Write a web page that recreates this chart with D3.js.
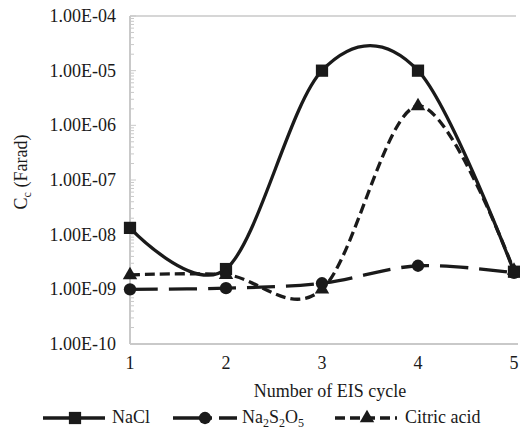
<!DOCTYPE html>
<html>
<head>
<meta charset="utf-8">
<script src="https://cdn.jsdelivr.net/npm/d3@7"></script>
<style>
  html, body { margin: 0; padding: 0; background: #fff; }
  svg { display: block; }
  svg text { font-family: "Times New Roman", Times, "Liberation Serif", Tinos, "Noto Serif", "DejaVu Serif", serif; }
</style>
</head>
<body>
<svg id="chart" width="520" height="429"></svg>
<script>
// EIS cycle numbers on the horizontal axis
const cycles = [1, 2, 3, 4, 5];

// Coating capacitance Cc (F) for each electrolyte
const naclValues = [1.33e-8, 2.35e-9, 1.0e-5, 1.0e-5, 2.1e-9];
const metabisulfiteValues = [1.0e-9, 1.05e-9, 1.29e-9, 2.7e-9, 2.0e-9];
const citricValues = [1.83e-9, 1.85e-9, 1.0e-9, 2.26e-6, 2.2e-9];

// Axis ticks
const yTickValues = [1e-10, 1e-9, 1e-8, 1e-7, 1e-6, 1e-5, 1e-4];
const yTickLabels = ["1.00E-10", "1.00E-09", "1.00E-08", "1.00E-07", "1.00E-06", "1.00E-05", "1.00E-04"];
const xTickLabels = ["1", "2", "3", "4", "5"];

const svg = d3.select("#chart");
const plot = { left: 130, right: 514, top: 16, bottom: 344 };

const x = d3.scaleLinear().domain([1, 5]).range([plot.left, plot.right]);
const y = d3.scaleLog().domain([1e-10, 1e-4]).range([plot.bottom, plot.top]);

const axisGray = "#c9c9c9";
const ink = "#1a1a1a";

// Plot frame lines (top and bottom)
svg.append("line").attr("x1", plot.left).attr("x2", plot.right + 2)
  .attr("y1", plot.top).attr("y2", plot.top)
  .attr("stroke", axisGray).attr("stroke-width", 1.5);
svg.append("line").attr("x1", plot.left).attr("x2", plot.right + 4)
  .attr("y1", plot.bottom).attr("y2", plot.bottom)
  .attr("stroke", axisGray).attr("stroke-width", 2);

// Vertical log axis with inside major and minor ticks
const minorTicks = [];
for (let e = -10; e < -4; e++) {
  for (let m = 2; m <= 9; m++) minorTicks.push(m * Math.pow(10, e));
}
const yAxisG = svg.append("g");
yAxisG.selectAll("line.minor").data(minorTicks).join("line")
  .attr("class", "minor")
  .attr("x1", plot.left).attr("x2", plot.left + 4)
  .attr("y1", d => y(d)).attr("y2", d => y(d))
  .attr("stroke", axisGray).attr("stroke-width", 1);
yAxisG.selectAll("line.major").data(yTickValues).join("line")
  .attr("class", "major")
  .attr("x1", plot.left).attr("x2", plot.left + 6)
  .attr("y1", d => y(d)).attr("y2", d => y(d))
  .attr("stroke", axisGray).attr("stroke-width", 1);
yAxisG.append("line")
  .attr("x1", plot.left).attr("x2", plot.left)
  .attr("y1", plot.top).attr("y2", plot.bottom)
  .attr("stroke", axisGray).attr("stroke-width", 2);

yAxisG.selectAll("text").data(yTickValues).join("text")
  .attr("x", plot.left - 14)
  .attr("y", d => y(d))
  .attr("dy", "0.33em")
  .attr("text-anchor", "end")
  .attr("font-size", 18)
  .attr("fill", ink)
  .text((d, i) => yTickLabels[i]);

// Horizontal axis labels
svg.append("g").selectAll("text").data(cycles).join("text")
  .attr("x", d => x(d))
  .attr("y", 369)
  .attr("text-anchor", "middle")
  .attr("font-size", 18)
  .attr("fill", ink)
  .text((d, i) => xTickLabels[i]);

// Axis titles
svg.append("text")
  .attr("x", 330).attr("y", 397)
  .attr("text-anchor", "middle")
  .attr("font-size", 18)
  .attr("fill", ink)
  .text("Number of EIS cycle");

const yTitle = svg.append("text")
  .attr("transform", "translate(27,172) rotate(-90)")
  .attr("text-anchor", "middle")
  .attr("font-size", 18)
  .attr("fill", ink);
yTitle.append("tspan").text("C");
yTitle.append("tspan").attr("font-size", 12).attr("dy", 4).text("c");
yTitle.append("tspan").attr("dy", -4).text(" (Farad)");

// Series definitions
const series = [
  { name: "NaCl", values: naclValues, dash: null, legendDash: null, marker: "square" },
  { name: "Na2S2O5", values: metabisulfiteValues, dash: "28,11", legendDash: "39,7,30", marker: "circle" },
  { name: "Citric acid", values: citricValues, dash: "10,5", legendDash: "10,5", marker: "triangle" }
];

const line = d3.line()
  .x(d => x(d.c))
  .y(d => y(d.v))
  .curve(d3.curveCatmullRom.alpha(0));

const symbolFor = {
  square: d3.symbol().type(d3.symbolSquare).size(150),
  circle: d3.symbol().type(d3.symbolCircle).size(120),
  triangle: d3.symbol().type(d3.symbolTriangle).size(90)
};

const lineW = 3.3;

series.forEach(s => {
  const pts = cycles.map((c, i) => ({ c, v: s.values[i] }));
  svg.append("path")
    .datum(pts)
    .attr("d", line)
    .attr("fill", "none")
    .attr("stroke", ink)
    .attr("stroke-width", lineW)
    .attr("stroke-dasharray", s.dash);
});

series.forEach(s => {
  const pts = cycles.map((c, i) => ({ c, v: s.values[i] }));
  svg.append("g").selectAll("path").data(pts).join("path")
    .attr("transform", d => `translate(${x(d.c)},${y(d.v)})`)
    .attr("d", symbolFor[s.marker]())
    .attr("fill", ink);
});

// Legend
const legendY = 418;
const legendItems = [
  { s: series[0], x1: 43, x2: 105, mx: 75 },
  { s: series[1], x1: 173, x2: 237, mx: 205 },
  { s: series[2], x1: 335, x2: 397, mx: 367 }
];
legendItems.forEach(it => {
  svg.append("line")
    .attr("x1", it.x1).attr("x2", it.x2)
    .attr("y1", legendY).attr("y2", legendY)
    .attr("stroke", ink).attr("stroke-width", lineW)
    .attr("stroke-dasharray", it.s.legendDash);
  svg.append("path")
    .attr("transform", `translate(${it.mx},${legendY})`)
    .attr("d", symbolFor[it.s.marker]())
    .attr("fill", ink);
});
svg.append("text").attr("x", 112).attr("y", legendY + 5).attr("font-size", 18).attr("fill", ink).text("NaCl");
const naLabel = svg.append("text").attr("x", 242).attr("y", legendY + 5).attr("font-size", 18).attr("fill", ink);
naLabel.append("tspan").text("Na");
naLabel.append("tspan").attr("font-size", 12).attr("dy", 4).text("2");
naLabel.append("tspan").attr("dy", -4).text("S");
naLabel.append("tspan").attr("font-size", 12).attr("dy", 4).text("2");
naLabel.append("tspan").attr("dy", -4).text("O");
naLabel.append("tspan").attr("font-size", 12).attr("dy", 4).text("5");
svg.append("text").attr("x", 405).attr("y", legendY + 5).attr("font-size", 18).attr("fill", ink).text("Citric acid");
</script>
</body>
</html>
